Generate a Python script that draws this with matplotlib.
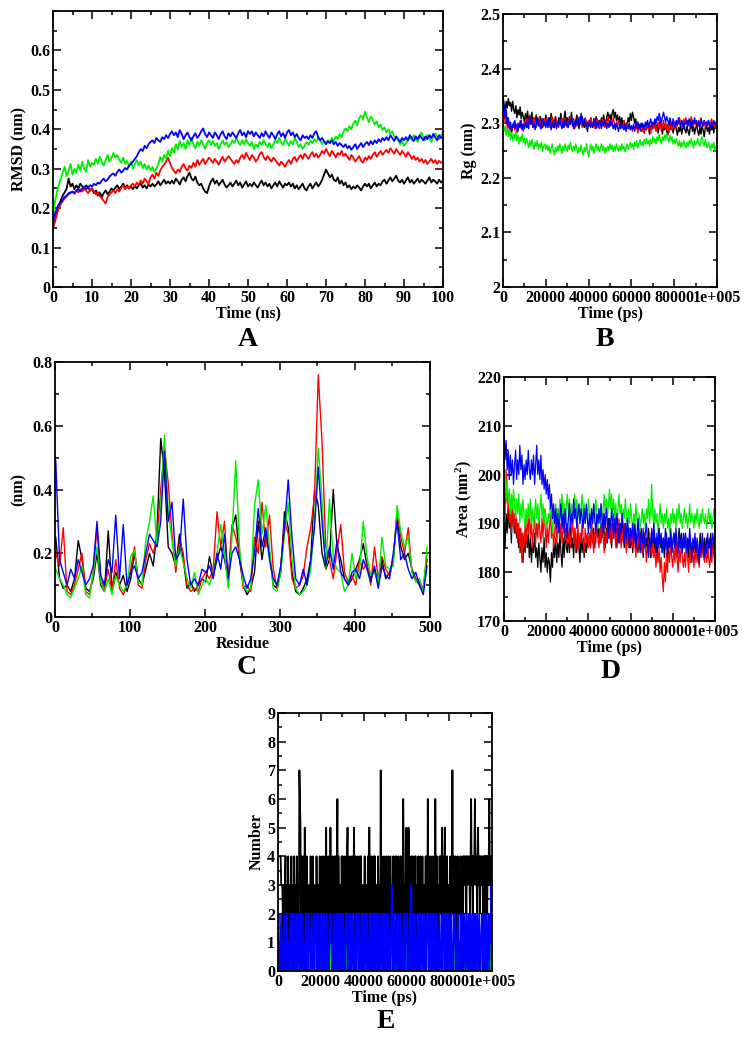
import numpy as np
import matplotlib
matplotlib.use('Agg')
import matplotlib.pyplot as plt
from matplotlib.ticker import MultipleLocator, FixedLocator

plt.rcParams['font.family'] = ['Liberation Serif', 'DejaVu Serif']
plt.rcParams['font.weight'] = 'bold'
plt.rcParams['mathtext.fontset'] = 'custom'
plt.rcParams['mathtext.rm'] = 'Liberation Serif:bold'
plt.rcParams['mathtext.default'] = 'rm'

def nums(s, scale=1.0):
    return [int(v) * scale for v in s.split()]

# ── A: RMSD, every 0.5 ns, values in 1e-3 nm ─────────
rmsd_black = nums("""
150 170 190 205 220 232 240 250 275 255 262
248 258 250 262 255 248 258 252 245 250
238 245 232 240 228 238 245 235 242 250
245 252 258 248 255 262 252 258 250 255
248 256 250 258 262 252 258 250 260 255
262 255 260 268 258 265 272 262 268 262
270 262 275 268 260 272 278 268 282 290
275 270 280 265 258 262 250 242 238 255
268 275 262 270 258 265 272 260 252 258
265 255 262 270 258 265 252 260 268 255
262 255 265 258 252 262 270 258 265 255
262 250 258 265 255 268 260 252 262 258
265 255 262 250 258 248 255 262 250 245
255 262 250 258 265 255 262 272 285 298
288 278 285 272 268 278 262 270 258 265
252 258 248 255 250 258 252 245 255 262
255 262 250 258 265 255 262 258 268 272
262 270 278 268 275 282 270 265 272 262
270 278 265 272 262 268 275 265 272 268
262 270 278 265 272 268 262 272 265 270""", 1e-3)
rmsd_red = nums("""
150 165 185 200 210 218 225 230 235 238 242
236 245 240 248 242 250 244 238 246 250
242 235 240 230 225 218 212 228 235 240
245 238 248 242 252 258 248 255 250 258
262 255 265 258 270 262 275 268 262 278
285 275 290 282 295 305 310 318 328 315
302 295 288 298 292 305 312 300 295 308
302 315 305 322 310 318 325 312 320 328
322 315 325 318 310 322 330 318 325 332
325 318 312 322 315 328 335 325 340 330
322 335 328 318 325 338 342 330 322 332
325 318 328 322 315 308 318 312 305 315
322 312 325 330 318 328 335 325 338 332
325 335 342 330 338 328 335 345 338 350
340 332 345 338 328 340 335 345 332 338
330 322 335 328 318 325 332 320 315 328
322 332 325 335 342 330 338 345 335 342
348 340 352 345 338 350 342 335 345 338
330 342 335 325 332 322 328 318 325 315
322 312 318 325 315 322 312 320 315 318""", 1e-3)
rmsd_green = nums("""
180 215 240 260 275 290 305 280 295 312 285
300 290 310 295 318 300 292 322 305 315
310 325 312 330 318 308 322 335 318 328
340 328 335 322 315 328 312 320 305 318
300 312 322 308 318 302 312 298 308 295
305 292 300 312 330 318 335 325 345 332
352 340 362 348 370 355 365 350 372 360
378 362 352 368 358 372 362 350 365 372
360 370 358 365 350 362 372 360 368 355
362 372 365 378 368 360 372 362 375 365
358 368 350 362 355 368 360 372 362 355
365 352 362 372 365 378 368 360 375 368
358 370 362 378 368 355 362 350 358 368
360 372 365 375 368 380 372 362 370 365
372 365 378 370 382 375 388 380 395 402
395 408 400 415 422 410 428 435 425 445
430 418 432 425 412 420 405 412 398 405
392 400 388 395 382 378 372 362 370 358
365 372 380 372 385 375 368 382 392 378
372 385 378 368 380 390 382 375 385 392""", 1e-3)
rmsd_blue = nums("""
170 185 200 210 215 222 228 232 238 240 242
238 245 248 242 250 255 248 252 258 255
262 258 265 262 270 275 268 272 280 285
288 282 292 298 290 295 302 298 308 312
318 325 332 342 350 345 358 352 362 368
372 365 378 372 368 380 375 385 378 388
395 385 392 380 398 388 375 385 392 380
372 382 390 378 385 395 402 388 380 392
385 378 392 385 375 388 395 382 375 390
382 392 385 378 390 398 385 392 380 395
388 395 382 392 385 378 390 382 395 385
378 392 385 375 388 395 382 390 378 392
398 385 392 380 388 378 372 385 378 382
375 385 378 390 395 380 372 378 370 362
370 365 372 362 368 358 365 360 355 362
352 358 348 355 362 350 358 365 355 362
368 360 370 362 372 365 375 368 378 372
380 372 385 378 370 382 375 368 378 372
380 372 385 378 370 382 375 385 378 372
382 375 385 378 388 380 372 385 378 382""", 1e-3)

# ── B: Rg, every 500 ps, values in 1e-3 nm ───────────
rg_black = nums("""
2350 2335 2318 2340 2328 2345 2332 2338 2322 2340 2325
2318 2332 2310 2325 2315 2330 2308 2320 2312 2302
2318 2305 2322 2298 2312 2305 2320 2296 2310 2302
2315 2298 2308 2295 2312 2302 2292 2308 2298 2315
2305 2292 2310 2300 2318 2298 2305 2292 2312 2302
2295 2310 2300 2318 2305 2292 2308 2322 2302 2310
2296 2312 2305 2320 2298 2308 2292 2305 2315 2300
2290 2305 2298 2312 2300 2292 2308 2298 2285 2302
2295 2310 2300 2292 2308 2298 2312 2302 2292 2305
2298 2310 2300 2315 2305 2295 2312 2320 2308 2316
2305 2318 2325 2310 2320 2305 2315 2302 2312 2298
2310 2295 2305 2290 2300 2295 2310 2302 2318 2305
2320 2312 2300 2308 2292 2302 2290 2298 2285 2300
2292 2282 2298 2288 2302 2290 2280 2295 2288 2300
2292 2305 2288 2298 2282 2295 2308 2290 2280 2295
2288 2300 2285 2278 2295 2305 2288 2298 2282 2292
2300 2288 2278 2292 2285 2298 2280 2290 2302 2288
2282 2295 2285 2278 2292 2302 2285 2295 2280 2290
2298 2285 2278 2292 2280 2295 2288 2275 2290 2298
2285 2292 2280 2298 2288 2295 2282 2300 2290 2295""", 1e-3)
rg_red = nums("""
2310 2320 2302 2315 2290 2305 2285 2298 2280 2295 2302
2288 2298 2282 2300 2292 2305 2290 2298 2285 2302
2295 2308 2292 2302 2315 2298 2305 2292 2310 2300
2292 2305 2298 2312 2300 2290 2305 2295 2308 2300
2310 2298 2305 2292 2302 2312 2298 2308 2295 2305
2300 2292 2305 2298 2310 2302 2295 2308 2300 2292
2305 2298 2312 2302 2295 2305 2290 2300 2295 2308
2300 2312 2302 2292 2305 2298 2310 2300 2292 2305
2298 2310 2302 2295 2305 2290 2300 2308 2298 2290
2302 2295 2308 2300 2292 2305 2298 2312 2302 2295
2305 2298 2310 2300 2292 2302 2295 2305 2298 2290
2300 2292 2305 2298 2288 2300 2292 2298 2288 2295
2285 2295 2288 2300 2292 2282 2295 2288 2298 2285
2292 2282 2295 2290 2300 2288 2295 2282 2292 2300
2290 2298 2285 2295 2302 2290 2298 2285 2295 2305
2292 2300 2288 2298 2282 2292 2300 2288 2295 2302
2292 2305 2295 2302 2310 2298 2305 2295 2308 2300
2310 2298 2305 2295 2302 2312 2300 2295 2305 2298
2302 2292 2305 2298 2310 2300 2295 2305 2292 2302
2298 2305 2292 2300 2308 2295 2302 2292 2300 2305""", 1e-3)
rg_green = nums("""
2300 2285 2295 2278 2290 2275 2288 2270 2282 2268 2280
2272 2285 2268 2278 2262 2275 2268 2280 2265 2272
2260 2272 2265 2255 2268 2258 2270 2262 2252 2265
2258 2268 2252 2262 2255 2265 2248 2258 2262 2252
2260 2250 2258 2245 2255 2262 2250 2242 2255 2248
2258 2250 2262 2252 2245 2258 2250 2262 2255 2248
2260 2252 2265 2255 2248 2258 2250 2262 2252 2245
2255 2248 2260 2250 2242 2255 2248 2262 2250 2238
2252 2262 2250 2258 2245 2255 2262 2250 2258 2248
2255 2262 2250 2258 2245 2255 2248 2258 2250 2262
2252 2260 2248 2258 2250 2262 2255 2248 2258 2250
2262 2252 2258 2248 2255 2262 2252 2258 2265 2255
2262 2252 2265 2258 2268 2255 2262 2270 2260 2266
2258 2270 2262 2272 2262 2268 2258 2270 2262 2275
2265 2272 2262 2275 2268 2280 2270 2262 2275 2268
2278 2270 2282 2272 2265 2278 2268 2275 2262 2270
2262 2272 2265 2258 2268 2255 2265 2258 2268 2260
2255 2265 2258 2268 2262 2272 2262 2255 2268 2260
2265 2272 2262 2258 2268 2275 2265 2258 2270 2262
2255 2265 2258 2250 2262 2255 2265 2248 2258 2262""", 1e-3)
rg_blue = nums("""
2320 2335 2310 2325 2298 2310 2290 2302 2285 2298 2292
2305 2290 2298 2285 2300 2292 2305 2288 2298 2290
2302 2292 2305 2290 2312 2298 2305 2292 2300 2288
2298 2310 2295 2305 2290 2300 2308 2295 2302 2292
2305 2295 2310 2298 2288 2300 2292 2305 2298 2290
2302 2295 2308 2298 2290 2302 2292 2305 2295 2300
2292 2305 2298 2310 2300 2290 2302 2295 2305 2298
2310 2300 2318 2305 2295 2308 2298 2290 2302 2295
2305 2292 2300 2295 2308 2298 2290 2302 2295 2305
2298 2290 2302 2295 2305 2298 2290 2300 2292 2305
2295 2302 2290 2298 2288 2300 2292 2285 2298 2290
2300 2292 2288 2298 2285 2295 2290 2300 2288 2295
2290 2298 2285 2295 2302 2290 2298 2288 2300 2292
2298 2290 2302 2295 2305 2292 2300 2308 2295 2302
2298 2308 2300 2312 2305 2318 2308 2300 2312 2320
2310 2302 2312 2305 2298 2310 2302 2295 2308 2300
2292 2305 2298 2310 2300 2295 2305 2298 2290 2302
2298 2305 2295 2308 2300 2292 2305 2298 2310 2300
2305 2295 2302 2292 2308 2300 2295 2305 2298 2302
2295 2305 2298 2290 2302 2295 2305 2298 2302 2300""", 1e-3)

# ── C: RMSF, every 5 residues (nm) ───────────────────
res = list(range(1, 500, 5))
rmsf_black = [0.25,0.12,0.09,0.10,0.08,0.12,0.24,0.18,0.09,0.08,
              0.12,0.20,0.10,0.08,0.27,0.09,0.14,0.10,0.13,0.08,
              0.12,0.20,0.12,0.10,0.15,0.20,0.16,0.27,0.56,0.45,
              0.22,0.20,0.16,0.26,0.18,0.09,0.11,0.08,0.10,0.12,
              0.11,0.19,0.13,0.18,0.22,0.18,0.12,0.28,0.32,0.18,
              0.10,0.07,0.09,0.14,0.30,0.18,0.26,0.20,0.10,0.09,
              0.14,0.33,0.28,0.14,0.08,0.07,0.09,0.12,0.18,0.40,
              0.35,0.20,0.15,0.18,0.40,0.22,0.18,0.12,0.10,0.12,
              0.15,0.18,0.23,0.16,0.12,0.15,0.10,0.18,0.12,0.14,
              0.18,0.32,0.22,0.18,0.20,0.15,0.12,0.10,0.08,0.18]
rmsf_red = [0.20,0.16,0.28,0.08,0.07,0.10,0.15,0.20,0.08,0.07,
            0.14,0.28,0.12,0.09,0.15,0.08,0.18,0.09,0.07,0.10,
            0.15,0.22,0.10,0.09,0.18,0.23,0.20,0.25,0.40,0.53,
            0.42,0.26,0.14,0.24,0.20,0.10,0.08,0.09,0.08,0.12,
            0.14,0.12,0.15,0.33,0.22,0.30,0.10,0.29,0.25,0.20,
            0.09,0.10,0.08,0.25,0.20,0.36,0.22,0.32,0.15,0.09,
            0.16,0.30,0.26,0.12,0.09,0.10,0.13,0.22,0.28,0.38,
            0.76,0.55,0.22,0.18,0.12,0.21,0.29,0.14,0.11,0.13,
            0.10,0.18,0.15,0.17,0.10,0.22,0.12,0.19,0.15,0.13,
            0.18,0.33,0.25,0.20,0.28,0.14,0.12,0.11,0.09,0.20]
rmsf_green = [0.15,0.12,0.10,0.07,0.06,0.09,0.12,0.16,0.07,0.06,
              0.14,0.22,0.11,0.08,0.12,0.07,0.13,0.10,0.08,0.10,
              0.19,0.21,0.11,0.10,0.24,0.30,0.38,0.22,0.35,0.57,
              0.33,0.24,0.16,0.22,0.17,0.12,0.09,0.14,0.07,0.10,
              0.12,0.10,0.14,0.20,0.29,0.20,0.09,0.25,0.49,0.22,
              0.10,0.08,0.09,0.35,0.43,0.26,0.35,0.22,0.09,0.08,
              0.14,0.26,0.36,0.18,0.09,0.07,0.08,0.10,0.15,0.30,
              0.53,0.37,0.15,0.37,0.18,0.15,0.14,0.08,0.10,0.20,
              0.12,0.14,0.30,0.19,0.13,0.14,0.10,0.25,0.16,0.15,
              0.16,0.35,0.27,0.22,0.25,0.14,0.11,0.12,0.08,0.22]
rmsf_blue = [0.49,0.18,0.14,0.10,0.15,0.12,0.18,0.14,0.10,0.12,
             0.16,0.30,0.13,0.10,0.18,0.14,0.32,0.12,0.29,0.10,
             0.14,0.16,0.12,0.14,0.20,0.26,0.24,0.22,0.30,0.52,
             0.30,0.36,0.18,0.20,0.37,0.18,0.10,0.12,0.10,0.15,
             0.14,0.16,0.12,0.20,0.15,0.26,0.12,0.20,0.22,0.18,
             0.13,0.09,0.12,0.20,0.34,0.22,0.28,0.18,0.12,0.10,
             0.16,0.28,0.43,0.25,0.12,0.10,0.15,0.10,0.18,0.28,
             0.47,0.30,0.16,0.22,0.15,0.24,0.14,0.12,0.10,0.14,
             0.15,0.12,0.18,0.15,0.11,0.16,0.09,0.16,0.13,0.12,
             0.20,0.30,0.18,0.20,0.15,0.12,0.14,0.10,0.07,0.16]

# ── D: SASA, every 500 ps (nm^2) ─────────────────────
sasa_black = nums("""
190 185 192 188 194 189 192 186 193 190 188
192 187 190 185 189 184 188 182 187 184
189 185 188 183 187 182 186 184 188 183
185 181 186 183 180 185 182 187 181 184
180 183 182 178 184 181 186 183 187 182
186 183 188 184 181 187 183 189 185 184
188 184 190 185 187 183 189 186 184 188
185 182 188 184 187 183 186 184 187 185
188 185 190 186 189 185 188 191 187 189
186 190 187 192 188 185 189 186 191 187
189 185 190 187 192 188 185 189 186 190
187 191 188 185 189 186 190 187 189 185
188 184 187 190 186 188 184 187 185 189
186 183 188 185 187 184 189 186 183 188
185 188 184 187 183 186 189 185 187 184
187 183 186 188 184 187 185 189 184 186
188 185 187 183 186 189 185 188 184 187
185 188 184 186 183 187 185 182 186 184
187 184 186 182 185 188 184 186 183 187
184 187 183 186 185 188 184 186 185 187""")
sasa_red = nums("""
198 192 201 194 196 190 193 188 195 189 192
188 191 186 190 184 189 182 188 185 190
186 191 188 193 187 190 185 189 192 186
190 187 192 188 186 191 187 193 189 185
190 186 189 192 187 190 185 188 191 186
189 193 187 190 186 189 192 188 186 190
186 189 185 188 191 186 189 184 187 190
185 188 186 190 187 184 189 186 188 185
188 185 190 187 184 188 186 190 187 185
189 186 191 187 184 188 186 190 187 189
186 190 187 192 188 185 189 187 191 188
185 189 186 190 187 184 188 185 189 186
188 185 189 186 183 187 185 189 186 184
187 184 188 185 182 186 184 188 185 183
186 183 185 181 184 182 185 180 183 179
176 182 178 184 180 185 182 186 183 181
185 182 187 183 180 185 182 186 183 181
184 181 186 183 180 185 182 186 184 181
185 182 186 183 181 185 183 187 184 182
185 182 186 183 181 184 182 186 183 182""")
sasa_green = nums("""
198 201 195 199 194 197 192 196 193 197 194
191 195 192 196 190 194 191 195 192 189
193 190 194 191 195 190 193 189 192 195
191 194 190 193 196 191 194 190 193 191
189 192 190 194 191 188 192 190 194 191
193 190 195 192 196 191 194 190 193 196
192 195 191 194 190 193 196 192 195 191
194 190 193 196 191 194 190 193 191 195
192 189 193 190 194 191 195 192 189 193
191 194 190 193 196 192 195 191 194 197
193 196 192 195 191 194 190 193 196 192
194 190 193 191 195 192 189 193 190 194
191 188 192 190 194 191 188 192 189 191
193 190 192 189 193 191 195 190 193 198
192 189 193 190 192 188 191 194 190 192
189 192 190 193 189 191 188 192 190 193
190 192 189 193 191 194 190 192 189 191
193 190 192 189 191 194 190 192 191 189
192 190 193 191 189 192 190 193 191 190
192 189 191 193 190 192 189 191 193 191""")
sasa_blue = nums("""
210 203 207 201 205 199 204 200 203 198 202
205 199 203 200 206 201 204 198 202 199
203 200 205 201 199 203 200 204 198 202
206 200 203 199 204 198 201 197 200 196
199 195 198 193 196 191 194 190 193 189
192 188 191 194 189 192 188 193 190 187
191 194 189 192 190 195 191 193 189 192
194 190 193 191 189 193 190 194 191 188
192 189 193 190 194 191 188 192 190 193
190 194 191 188 192 189 193 190 187 191
189 193 190 187 191 188 192 189 186 190
188 192 189 186 190 187 191 188 185 189
187 190 186 189 185 188 191 187 184 188
186 189 185 188 190 186 183 187 185 189
186 190 187 184 188 185 189 186 188 184
187 185 189 186 183 187 185 188 184 186
188 185 189 186 184 188 185 187 184 188
185 188 184 187 185 189 186 183 187 185
188 184 187 185 182 186 184 188 185 183
186 184 188 185 187 183 186 188 185 187""")

# ── E: H-bond number, every 250 ps ───────────────────
hb_black = [int(c) for c in
            "4444443332" "1323413214" "2313241321" "4213142312" "7651423141"
            "5312413213" "2413142312" "3142313241" "3241314231" "5231423152"
            "3142314241" "3614231314" "2413241324" "5231423142" "4253142314"
            "2314241321" "3241323141" "5523142314" "2413231423" "3172413142"
            "3241314231" "4231241324" "2413242314" "4231642313" "5231542314"
            "2413142413" "3241324132" "4231324141" "6231423142" "3241632413"
            "3142424532" "4252314231" "3241327241" "3241324132" "2413242434"
            "3424344432" "4634243464" "3424534243" "4342434243" "4243463424" "3"]
hb_green = [int(c) for c in
            "0101101001" "1001011010" "0110100101" "1010010110" "0101101001"
            "1001011010" "0110100101" "1010010110" "0101101001" "1001011010"
            "0110100101" "1010010110" "0101101001" "1001011010" "0110100101"
            "1010010110" "0101101001" "1001011010" "0110100101" "1010010110"
            "0101101001" "1001011010" "0110100101" "1010010110" "0101101001"
            "1001011010" "0110100101" "1010010110" "0101101001" "1001011010"
            "0110100101" "1010010110" "0101101001" "1001011010" "0110100101"
            "1010010110" "0101101001" "1001011010" "0110100101" "1010010110" "1"]
hb_blue = [int(c) for c in
           "1201012101" "0121010210" "1012101201" "2101021012" "1021012101"
           "0121020121" "1012101021" "2101201012" "1021012101" "0120101212"
           "1010210101" "2101201021" "0121010212" "1012012101" "2101021012"
           "1201012102" "1012101201" "0121021010" "2101201021" "1012101202"
           "1021012101" "0123101210" "1210120101" "2101021012" "1201012103"
           "1012101201" "0121021012" "1012010121" "2101201021" "1021012101"
           "0121010212" "1012102101" "2101201012" "1201012101" "0121021012"
           "1012101201" "2101201021" "0121012101" "1210120102" "1012101213" "1"]

ps_ticks = [0, 20000, 40000, 60000, 80000, 100000]
ps_labels = ['0', '20000', '40000', '60000', '80000', '1e+005']

colors = ['black', 'red', '#00ee00', 'blue']
FS = 11.5

W, H = 746, 1042
fig = plt.figure(figsize=(W / 100, H / 100), dpi=100)

def box(l, t, r, b):
    return fig.add_axes([l / W, 1 - b / H, (r - l) / W, (b - t) / H])

def span(y, end):
    # evenly sampled frames over the run
    return np.linspace(0, end, len(y))

def style(ax, xmin, ymin):
    ax.xaxis.set_minor_locator(MultipleLocator(xmin))
    ax.yaxis.set_minor_locator(MultipleLocator(ymin))
    ax.tick_params(which='both', direction='in', top=True, right=True,
                   labelsize=FS, width=1.1, pad=2)
    ax.tick_params(which='major', length=6)
    ax.tick_params(which='minor', length=3)
    for s in ax.spines.values():
        s.set_linewidth(1.3)
    for lab in ax.get_xticklabels() + ax.get_yticklabels():
        lab.set_fontweight('bold')

def ps_axis(ax):
    ax.set_xlim(0, 100000)
    ax.xaxis.set_major_locator(FixedLocator(ps_ticks))
    ax.set_xticklabels(ps_labels)
    ax.set_xlabel('Time (ps)', fontsize=FS, fontweight='bold', labelpad=0)

# A
axA = box(53, 11, 443, 287)
for y, c in zip([rmsd_black, rmsd_red, rmsd_green, rmsd_blue], colors):
    axA.plot(span(y, 100), y, color=c, lw=1.3)
axA.set_xlim(0, 100)
axA.set_ylim(0, 0.7)
axA.xaxis.set_major_locator(MultipleLocator(10))
axA.yaxis.set_major_locator(FixedLocator([0, 0.1, 0.2, 0.3, 0.4, 0.5, 0.6]))
axA.set_yticklabels(['0', '0.1', '0.2', '0.3', '0.4', '0.5', '0.6'])
axA.set_xlabel('Time (ns)', fontsize=FS, fontweight='bold', labelpad=0)
axA.set_ylabel('RMSD (nm)', fontsize=FS, fontweight='bold', labelpad=2)
style(axA, 5, 0.05)

# B
axB = box(503, 14, 717, 287)
for y, c in zip([rg_black, rg_red, rg_green, rg_blue], colors):
    axB.plot(span(y, 100000), y, color=c, lw=1.0)
axB.set_ylim(2.0, 2.5)
axB.yaxis.set_major_locator(FixedLocator([2.0, 2.1, 2.2, 2.3, 2.4, 2.5]))
axB.set_yticklabels(['2', '2.1', '2.2', '2.3', '2.4', '2.5'])
ps_axis(axB)
axB.set_ylabel('Rg (nm)', fontsize=FS, fontweight='bold', labelpad=2)
style(axB, 10000, 0.05)

# C
axC = box(55, 362, 430, 617)
for y, c in zip([rmsf_black, rmsf_red, rmsf_green, rmsf_blue], colors):
    axC.plot(res, y, color=c, lw=1.0)
axC.set_xlim(0, 500)
axC.set_ylim(0, 0.8)
axC.xaxis.set_major_locator(MultipleLocator(100))
axC.yaxis.set_major_locator(FixedLocator([0, 0.2, 0.4, 0.6, 0.8]))
axC.set_yticklabels(['0', '0.2', '0.4', '0.6', '0.8'])
axC.set_xlabel('Residue', fontsize=FS, fontweight='bold', labelpad=0)
axC.set_ylabel('(nm)', fontsize=FS, fontweight='bold', labelpad=4)
style(axC, 50, 0.1)

# D
axD = box(504, 377, 715, 621)
for y, c in zip([sasa_black, sasa_red, sasa_green, sasa_blue], colors):
    axD.plot(span(y, 100000), y, color=c, lw=0.9)
axD.set_ylim(170, 220)
axD.yaxis.set_major_locator(MultipleLocator(10))
ps_axis(axD)
axD.set_ylabel('Area (nm$^{2}$)', fontsize=FS, fontweight='bold', labelpad=2)
style(axD, 10000, 5)

# E
axE = box(278, 713, 492, 971)
for y, c in zip([hb_black, hb_green, hb_blue], ['black', '#00ee00', 'blue']):
    axE.plot(span(y, 100000), y, color=c, lw=1.3)
axE.set_ylim(0, 9)
axE.yaxis.set_major_locator(MultipleLocator(1))
ps_axis(axE)
axE.set_ylabel('Number', fontsize=FS, fontweight='bold', labelpad=2)
style(axE, 10000, 0.5)

# panel letters
for lx, ly, s in [(248, 340, 'A'), (605, 340, 'B'), (247, 668, 'C'),
                  (611, 672, 'D'), (386, 1022, 'E')]:
    fig.text(lx / W, 1 - ly / H, s, fontsize=20, fontweight='bold',
             ha='center', va='center')

plt.savefig('out.png', dpi=100)
plt.close()
